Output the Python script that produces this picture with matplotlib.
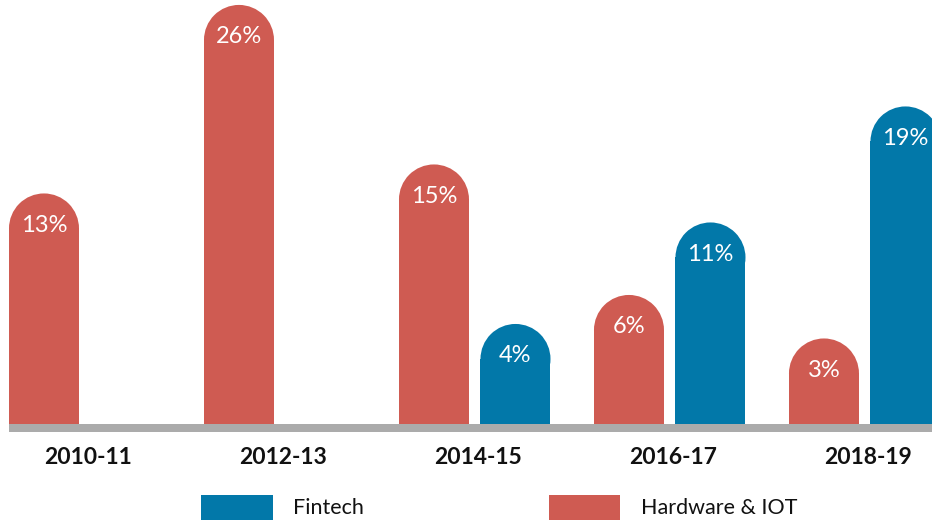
import numpy as np
import matplotlib
matplotlib.use("Agg")
import matplotlib.pyplot as plt
from matplotlib.patches import Rectangle, Ellipse

# data
years = ['2010-11', '2012-13', '2014-15', '2016-17', '2018-19']
hardware = [13, 26, 15, 6, 3]
fintech = [np.nan, np.nan, 4, 11, 19]
series_names = ['Fintech', 'Hardware & IOT']

RED = '#CF5B52'
BLUE = '#0278A9'
GRAY = '#ABABAB'

W_PX, H_PX = 932, 522
fig = plt.figure(figsize=(W_PX / 100, H_PX / 100), dpi=100)
fig.patch.set_facecolor('white')
ax = fig.add_axes([0, 90 / H_PX, 1, 432 / H_PX])
ax.set_xlim(-0.4346, 4.345)
ax.set_ylim(-3.45, 26.34)
ax.axis('off')

bw = 0.359    # bar width (category units)
off = 0.209   # half distance between paired bars
base = -3.45
base_top = -2.9

# px per data unit, used to make the bar tops round
xs = ax.bbox.width / (ax.get_xlim()[1] - ax.get_xlim()[0])
ys = ax.bbox.height / (ax.get_ylim()[1] - ax.get_ylim()[0])
ry = (bw / 2) * xs / ys


def capsule(x, v, color):
    top = v - ry
    ax.add_patch(Rectangle((x - bw / 2, base), bw, top - base, facecolor=color,
                           edgecolor='none', lw=0, zorder=2))
    ax.add_patch(Ellipse((x, top), bw, 2 * ry, facecolor=color,
                         edgecolor='none', lw=0, zorder=2))
    ax.annotate(f'{v:g}%', (x, v), xytext=(0, -23), textcoords='offset points',
                ha='center', va='center', color='white', fontsize=17,
                family='Lato', fontweight='normal', zorder=4)


for i in range(len(years)):
    capsule(i - off, hardware[i], RED)
    if not np.isnan(fintech[i]):
        capsule(i + off, fintech[i], BLUE)
    ax.text(i + 0.015, -0.0595, years[i], transform=ax.get_xaxis_transform(),
            ha='center', va='center', fontsize=16.5, fontweight='bold',
            family='Lato', color='#111111')

# grey baseline
ax.axhspan(base, base_top, xmin=9 / W_PX, xmax=1, color=GRAY, lw=0, zorder=3)

# legend drawn by hand
for (x0, x1, tx), name, col in zip([(201, 273, 293), (549, 620, 641)], series_names, [BLUE, RED]):
    fig.patches.append(Rectangle((x0 / W_PX, 1 - 520 / H_PX), (x1 - x0) / W_PX, 25 / H_PX,
                                 transform=fig.transFigure, facecolor=col, edgecolor='none'))
    fig.text(tx / W_PX, 1 - 508 / H_PX, name, ha='left', va='center', fontsize=15.5,
             family='Lato', color='#111111')

fig.savefig('out.png', dpi=100, facecolor='white')
